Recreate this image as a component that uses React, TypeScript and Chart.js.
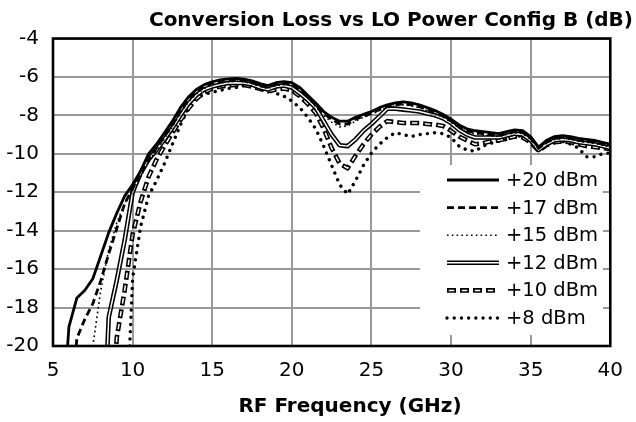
import React, { useEffect, useRef } from "react";
import { Chart, registerables } from "chart.js";

Chart.register(...registerables);

const TITLE = "Conversion Loss vs LO Power Config B (dB)";
const X_TITLE = "RF Frequency (GHz)";
const SERIES_LABELS = ["+20 dBm", "+17 dBm", "+15 dBm", "+12 dBm", "+10 dBm", "+8 dBm"];

const FREQ_GHZ = [
  5.5, 6, 6.5, 7, 7.5, 8, 8.5, 9, 9.5, 10, 10.5, 11, 11.5, 12, 12.5, 13, 13.5, 14, 14.5, 15,
  15.5, 16, 16.5, 17, 17.5, 18, 18.5, 19, 19.5, 20, 20.5, 21, 21.5, 22, 22.5, 23, 23.5, 24, 24.5, 25,
  25.5, 26, 26.5, 27, 27.5, 28, 28.5, 29, 29.5, 30, 30.5, 31, 31.5, 32, 32.5, 33, 33.5, 34, 34.5, 35,
  35.5, 36, 36.5, 37, 37.5, 38, 38.5, 39, 39.5, 40,
];

const LOSS_P20 = [
  -25, -19.0, -17.5, -17.1, -16.5, -15.3, -14.1, -13.1, -12.2, -11.6, -10.9, -10.0, -9.5, -8.9, -8.3, -7.6, -7.05, -6.65, -6.4, -6.25,
  -6.15, -6.1, -6.08, -6.12, -6.2, -6.35, -6.45, -6.3, -6.25, -6.3, -6.55, -6.95, -7.35, -7.8, -8.1, -8.3, -8.3, -8.1, -7.95, -7.8,
  -7.6, -7.45, -7.35, -7.3, -7.35, -7.45, -7.6, -7.75, -7.95, -8.2, -8.5, -8.7, -8.8, -8.85, -8.9, -8.95, -8.85, -8.75, -8.8, -9.1,
  -9.65, -9.3, -9.1, -9.05, -9.1, -9.2, -9.25, -9.3, -9.4, -9.5,
];

const LOSS_P17 = [
  null, -24, -19.6, -18.6, -17.8, -16.6, -15.2, -13.9, -12.6, -11.8, -11.1, -10.3, -9.7, -9.1, -8.5, -7.8, -7.2, -6.8, -6.5, -6.35,
  -6.25, -6.2, -6.18, -6.2, -6.3, -6.45, -6.55, -6.4, -6.35, -6.4, -6.65, -7.05, -7.45, -7.9, -8.2, -8.45, -8.45, -8.2, -8.05, -7.9,
  -7.7, -7.55, -7.45, -7.4, -7.45, -7.55, -7.7, -7.85, -8.05, -8.3, -8.6, -8.8, -8.9, -8.95, -9.0, -9.05, -8.95, -8.85, -8.9, -9.2,
  -9.7, -9.4, -9.2, -9.15, -9.2, -9.3, -9.35, -9.4, -9.5, -9.6,
];

const LOSS_P15 = [
  null, null, null, -23.5, -20.0, -17.1, -15.0, -13.6, -12.6, -11.9, -11.2, -10.4, -9.8, -9.2, -8.6, -7.9, -7.3, -6.9, -6.6, -6.42,
  -6.3, -6.25, -6.22, -6.25, -6.35, -6.5, -6.6, -6.45, -6.4, -6.45, -6.72, -7.1, -7.55, -8.0, -8.35, -8.6, -8.55, -8.3, -8.1, -7.95,
  -7.75, -7.6, -7.5, -7.45, -7.5, -7.6, -7.75, -7.9, -8.1, -8.35, -8.65, -8.85, -8.95, -9.0, -9.05, -9.1, -9.0, -8.9, -8.95, -9.25,
  -9.75, -9.45, -9.25, -9.2, -9.25, -9.35, -9.4, -9.45, -9.55, -9.65,
];

const LOSS_P12 = [
  null, null, null, null, null, -28, -18.5, -16.6, -14.5, -12.0, -11.0, -10.3, -9.8, -9.25, -8.65, -8.0, -7.4, -6.95, -6.65, -6.5,
  -6.4, -6.32, -6.3, -6.32, -6.4, -6.55, -6.65, -6.5, -6.45, -6.55, -6.85, -7.2, -7.6, -8.3, -9.0, -9.55, -9.6, -9.25, -8.8, -8.45,
  -8.05, -7.65, -7.65, -7.7, -7.75, -7.8, -7.9, -8.0, -8.15, -8.4, -8.75, -9.0, -9.15, -9.15, -9.15, -9.15, -9.05, -8.95, -9.0, -9.3,
  -9.8, -9.5, -9.3, -9.25, -9.3, -9.4, -9.45, -9.5, -9.6, -9.7,
];

const LOSS_P10 = [
  null, null, null, null, null, null, -28, -19.6, -17.1, -14.2, -12.5, -11.2, -10.3, -9.6, -8.9, -8.25, -7.65, -7.15, -6.8, -6.6,
  -6.5, -6.45, -6.4, -6.42, -6.5, -6.62, -6.75, -6.65, -6.6, -6.7, -7.0, -7.4, -7.87, -8.7, -9.7, -10.5, -10.75, -10.1, -9.5, -9.0,
  -8.6, -8.3, -8.35, -8.4, -8.4, -8.4, -8.45, -8.48, -8.55, -8.8, -9.1, -9.3, -9.5, -9.45, -9.35, -9.3, -9.2, -9.1, -9.15, -9.4,
  -9.85, -9.55, -9.4, -9.35, -9.4, -9.5, -9.6, -9.65, -9.7, -9.75,
];

const LOSS_P8 = [
  null, null, null, null, null, null, null, null, -26, -16.5, -13.8, -12.2, -11.4, -10.5, -9.5, -8.5, -7.6, -7.1, -6.9, -6.8,
  -6.7, -6.6, -6.55, -6.45, -6.42, -6.5, -6.7, -6.85, -7.0, -7.25, -7.6, -8.1, -8.7, -9.6, -10.6, -11.6, -12.1, -11.4, -10.6, -9.95,
  -9.5, -9.15, -8.9, -9.0, -9.1, -9.0, -8.95, -8.9, -8.95, -9.15, -9.6, -9.8, -9.87, -9.6, -9.45, -9.35, -9.25, -9.1, -9.05, -9.3,
  -9.75, -9.5, -9.4, -9.35, -9.5, -9.7, -10.15, -10.15, -10.0, -9.95,
];

const SERIES_VALUES = [LOSS_P20, LOSS_P17, LOSS_P15, LOSS_P12, LOSS_P10, LOSS_P8];

const X_MIN = 5;
const X_MAX = 40;
const X_STEP = 5;
const Y_MIN = -20;
const Y_MAX = -4;
const Y_STEP = 2;

const FONT = "'DejaVu Sans', Verdana, sans-serif";
const GRID_COLOR = "#999999";

type Layer = { w: number; dash: number[]; offset?: number; cap?: CanvasLineCap; color?: string };

// line styles per series (drawing only)
const SERIES_LAYERS: Layer[][] = [
  [{ w: 2.8, dash: [] }],
  [{ w: 2.8, dash: [7, 4] }],
  [{ w: 1.6, dash: [1.6, 3.2] }],
  [{ w: 4.6, dash: [] }, { w: 1.5, dash: [], color: "#ffffff" }],
  [{ w: 4.6, dash: [9, 4] }, { w: 1.5, dash: [5.5, 7.5], offset: -1.75, color: "#ffffff" }],
  [{ w: 3.4, dash: [0.01, 7.2], cap: "round" }],
];

function buildDatasets() {
  const out: any[] = [];
  let drawIndex = 0;
  // draw bottom-most first: +8 ... +20
  for (let s = SERIES_VALUES.length - 1; s >= 0; s--) {
    const pts = FREQ_GHZ.map((x, i) => ({ x, y: SERIES_VALUES[s][i] })).filter((p) => p.y !== null);
    SERIES_LAYERS[s].forEach((layer, li) => {
      out.push({
        label: li === 0 ? SERIES_LABELS[s] : SERIES_LABELS[s] + " inner",
        data: pts,
        borderColor: layer.color || "#000000",
        borderWidth: layer.w,
        borderDash: layer.dash,
        borderDashOffset: layer.offset || 0,
        borderCapStyle: layer.cap || "butt",
        borderJoinStyle: "round",
        pointRadius: 0,
        tension: 0,
        fill: false,
        order: 100 - drawIndex,
      });
      drawIndex++;
    });
  }
  return out;
}

const framePlugin = {
  id: "frameAndLegend",
  afterDraw(chart: any) {
    const ctx: CanvasRenderingContext2D = chart.ctx;
    const area = chart.chartArea;
    const left = Number(area.left), right = Number(area.right), top = Number(area.top), bottom = Number(area.bottom);
    ctx.save();
    ctx.setTransform(1, 0, 0, 1, 0, 0);
    ctx.globalAlpha = 1;
    ctx.shadowColor = "rgba(0,0,0,0)";

    // grid lines (positions from the chart area and axis range); 'darken' keeps curves black
    ctx.globalCompositeOperation = "darken";
    ctx.strokeStyle = GRID_COLOR;
    ctx.lineWidth = 2;
    ctx.lineCap = "butt";
    ctx.setLineDash([]);
    ctx.beginPath();
    for (let v = X_MIN + X_STEP; v < X_MAX; v += X_STEP) {
      const px = Math.round(left + ((v - X_MIN) / (X_MAX - X_MIN)) * (right - left));
      ctx.moveTo(px, top);
      ctx.lineTo(px, bottom);
    }
    for (let v = Y_MIN + Y_STEP; v < Y_MAX; v += Y_STEP) {
      const py = Math.round(bottom - ((v - Y_MIN) / (Y_MAX - Y_MIN)) * (bottom - top));
      ctx.moveTo(left, py);
      ctx.lineTo(right, py);
    }
    ctx.stroke();
    ctx.globalCompositeOperation = "source-over";

    // frame
    ctx.strokeStyle = "#000";
    ctx.lineWidth = 2.6;
    ctx.strokeRect(left, top, right - left, bottom - top);

    // legend box
    const bx = 420, by = 165, bw = 183, bh = 170;
    ctx.fillStyle = "#ffffff";
    ctx.fillRect(bx, by, bw, bh);
    const rowY0 = 180;
    const rowStep = 27.6;
    const sx0 = 447, sx1 = 499, tx = 506;
    ctx.font = `19.5px ${FONT}`;
    ctx.textBaseline = "middle";
    ctx.textAlign = "left";
    SERIES_LABELS.forEach((label, s) => {
      const y = rowY0 + s * rowStep;
      SERIES_LAYERS[s].forEach((layer) => {
        ctx.beginPath();
        ctx.strokeStyle = layer.color || "#000";
        ctx.lineWidth = layer.w;
        ctx.setLineDash(layer.dash);
        ctx.lineDashOffset = layer.offset || 0;
        ctx.lineCap = layer.cap || "butt";
        ctx.moveTo(sx0, y);
        ctx.lineTo(sx1, y);
        ctx.stroke();
      });
      ctx.setLineDash([]);
      ctx.fillStyle = "#000";
      ctx.fillText(label, tx, y + 1);
    });

    // x axis title
    ctx.font = `bold 20px ${FONT}`;
    ctx.textAlign = "center";
    ctx.textBaseline = "middle";
    ctx.fillStyle = "#000";
    ctx.fillText(X_TITLE, 350, 407);
    ctx.restore();
  },
};

export default function App() {
  const canvasRef = useRef<HTMLCanvasElement | null>(null);

  useEffect(() => {
    document.body.style.margin = "0";
    const canvas = canvasRef.current;
    if (!canvas) return;
    const chart = new Chart(canvas, {
      type: "line",
      data: { datasets: buildDatasets() },
      options: {
        responsive: false,
        animation: false,
        devicePixelRatio: 1,
        layout: { padding: { left: 0, right: 3, top: 0, bottom: 0 } },
        plugins: {
          legend: { display: false },
          tooltip: { enabled: false },
          title: {
            display: true,
            text: TITLE,
            align: "end",
            color: "#000",
            font: { family: FONT, size: 20, weight: "bold" },
            padding: { top: 9, bottom: 5.5 },
          },
        },
        scales: {
          x: {
            type: "linear",
            min: X_MIN,
            max: X_MAX,
            grid: { color: GRID_COLOR, lineWidth: 2, drawTicks: false },
            border: { display: false },
            ticks: {
              stepSize: X_STEP,
              color: "#000",
              font: { family: FONT, size: 20 },
              padding: 13,
              maxRotation: 0,
            },
            afterFit: (s: any) => {
              s.height = 76;
            },
          },
          y: {
            type: "linear",
            min: Y_MIN,
            max: Y_MAX,
            grid: { color: GRID_COLOR, lineWidth: 2, drawTicks: false },
            border: { display: false },
            ticks: {
              stepSize: Y_STEP,
              color: "#000",
              font: { family: FONT, size: 20 },
              padding: 14,
            },
            afterFit: (s: any) => {
              s.width = 53;
            },
          },
          y2: {
            type: "linear",
            position: "right",
            display: true,
            grid: { display: false, drawTicks: false },
            border: { display: false },
            ticks: { display: false },
            afterFit: (s: any) => {
              s.width = 22;
            },
          },
        },
      },
      plugins: [framePlugin],
    });
    return () => chart.destroy();
  }, []);

  return (
    <div style={{ width: 636, height: 422 }}>
      <canvas ref={canvasRef} width={636} height={422} style={{ display: "block" }} />
    </div>
  );
}
